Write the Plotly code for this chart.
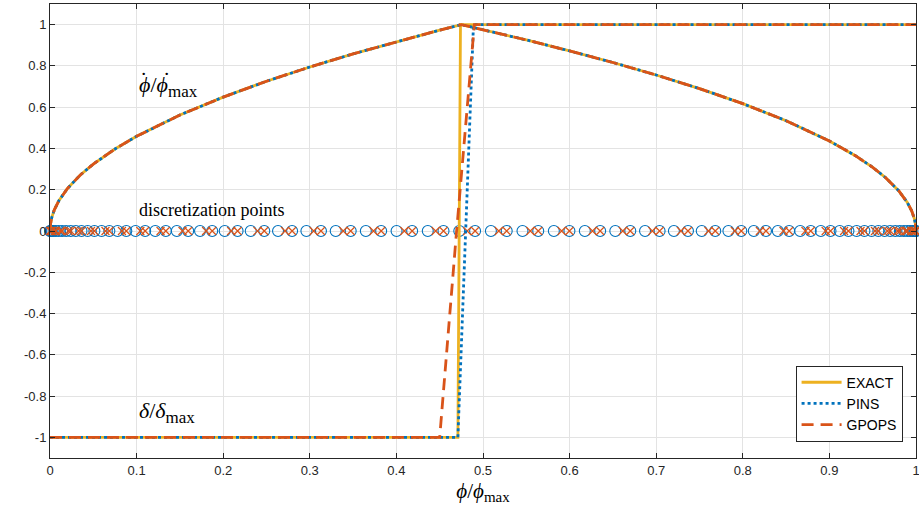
import plotly.graph_objects as go

# ---- data ----
# normalized roll-rate curve phi_dot/phi_dot_max vs phi/phi_max
rate_x = [0, 0.0005, 0.002, 0.005, 0.01, 0.02, 0.035, 0.05, 0.075, 0.1, 0.15, 0.2, 0.25,
          0.3, 0.35, 0.4, 0.45, 0.475, 0.5, 0.55, 0.6, 0.65, 0.7, 0.75, 0.8, 0.85, 0.9,
          0.93, 0.95, 0.965, 0.98, 0.99, 0.995, 0.998, 0.9995, 1]
rate_y = [0, 0.0324, 0.0649, 0.1026, 0.1451, 0.2052, 0.2714, 0.3244, 0.3974, 0.4588,
          0.5620, 0.6489, 0.7255, 0.7947, 0.8584, 0.9177, 0.9733, 1.0, 0.9759, 0.9258,
          0.8729, 0.8165, 0.7559, 0.6901, 0.6172, 0.5345, 0.4364, 0.3651, 0.3086, 0.2582,
          0.1952, 0.1380, 0.0976, 0.0617, 0.0309, 0]

# control delta/delta_max for each method
exact_dx = [0, 0.471, 0.474, 1]
exact_dy = [-1, -1, 1, 1]
pins_dx = [0, 0.471, 0.489, 1]
pins_dy = [-1, -1, 1, 1]
gpops_dx = [0, 0.450, 0.4695, 0.490, 1]
gpops_dy = [-1, -1, 0, 1, 1]

# discretization points (circles: PINS, crosses: GPOPS)
circle_pts = [0.00008, 0.00075, 0.00208, 0.00408, 0.00674, 0.01006, 0.01403, 0.01865,
              0.02391, 0.02981, 0.03633, 0.04348, 0.05123, 0.05958, 0.06852, 0.07803,
              0.08810, 0.09873, 0.10989, 0.12156, 0.13374, 0.14645, 0.15955, 0.17325,
              0.18729, 0.20175, 0.21660, 0.23182, 0.24740, 0.26332, 0.27955, 0.29608,
              0.31289, 0.32994, 0.34723, 0.36472, 0.38239, 0.40021, 0.41817, 0.43624,
              0.45440, 0.47262, 0.49087, 0.50913, 0.52738, 0.54560, 0.56376, 0.58183,
              0.59979, 0.61761, 0.63528, 0.65277, 0.67006, 0.68711, 0.70392, 0.72045,
              0.73668, 0.75260, 0.76818, 0.78340, 0.79825, 0.81271, 0.82675, 0.84045,
              0.85355, 0.86626, 0.87844, 0.89011, 0.90127, 0.91190, 0.92197, 0.93148,
              0.94042, 0.94877, 0.95652, 0.96367, 0.97019, 0.97609, 0.98135, 0.98597,
              0.98994, 0.99326, 0.99592, 0.99792, 0.99925, 0.99992]
cross_pts = [0.0, 0.00142, 0.00208, 0.00541, 0.00674, 0.01205, 0.01403, 0.02128, 0.02391,
             0.03307, 0.03633, 0.04736, 0.05123, 0.06405, 0.06852, 0.08307, 0.08810,
             0.10431, 0.10989, 0.12765, 0.13374, 0.15300, 0.15955, 0.18027, 0.18729,
             0.20918, 0.21660, 0.23961, 0.24740, 0.27144, 0.27955, 0.30449, 0.31289,
             0.33859, 0.34723, 0.37356, 0.38239, 0.40919, 0.41817, 0.44532, 0.45440,
             0.48175, 0.49087, 0.51826, 0.52738, 0.55468, 0.56376, 0.59081, 0.59979,
             0.62645, 0.63528, 0.66142, 0.67006, 0.69552, 0.70392, 0.72857, 0.73668,
             0.76039, 0.76818, 0.79083, 0.79825, 0.81973, 0.82675, 0.84700, 0.85355,
             0.87235, 0.87844, 0.89569, 0.90127, 0.91694, 0.92197, 0.93595, 0.94042,
             0.95265, 0.95652, 0.96693, 0.97019, 0.97872, 0.98135, 0.98796, 0.98994,
             0.99459, 0.99592, 0.99859, 0.99925, 1.0]

x_ticks = [0, 0.1, 0.2, 0.3, 0.4, 0.5, 0.6, 0.7, 0.8, 0.9, 1]
x_tick_text = ["0", "0.1", "0.2", "0.3", "0.4", "0.5", "0.6", "0.7", "0.8", "0.9", "1"]
y_ticks = [-1, -0.8, -0.6, -0.4, -0.2, 0, 0.2, 0.4, 0.6, 0.8, 1]
y_tick_text = ["-1", "-0.8", "-0.6", "-0.4", "-0.2", "0", "0.2", "0.4", "0.6", "0.8", "1"]

C_EXACT = "#EDB120"
C_PINS = "#0072BD"
C_GPOPS = "#D95319"

fig = go.Figure()

# discretization markers
fig.add_trace(go.Scatter(x=circle_pts, y=[0] * len(circle_pts), mode="markers",
                         marker=dict(symbol="circle-open", size=11, color=C_PINS,
                                     line=dict(width=1.1, color=C_PINS)),
                         showlegend=False, hoverinfo="skip", cliponaxis=False))
fig.add_trace(go.Scatter(x=cross_pts, y=[0] * len(cross_pts), mode="markers",
                         marker=dict(symbol="x-thin-open", size=8, color=C_GPOPS,
                                     line=dict(width=1.2, color=C_GPOPS)),
                         showlegend=False, hoverinfo="skip", cliponaxis=False))

LW = 2.8
# EXACT
fig.add_trace(go.Scatter(x=rate_x, y=rate_y, mode="lines", legendgroup="e",
                         line=dict(color=C_EXACT, width=LW), showlegend=False))
fig.add_trace(go.Scatter(x=exact_dx, y=exact_dy, mode="lines", legendgroup="e", name="EXACT",
                         line=dict(color=C_EXACT, width=LW)))
# PINS
fig.add_trace(go.Scatter(x=rate_x, y=rate_y, mode="lines", legendgroup="p",
                         line=dict(color=C_PINS, width=LW, dash="3px,3px"), showlegend=False))
fig.add_trace(go.Scatter(x=pins_dx, y=pins_dy, mode="lines", legendgroup="p", name="PINS",
                         line=dict(color=C_PINS, width=LW, dash="3px,3px")))
# GPOPS
fig.add_trace(go.Scatter(x=rate_x, y=rate_y, mode="lines", legendgroup="g",
                         line=dict(color=C_GPOPS, width=LW, dash="12px,7px"), showlegend=False))
fig.add_trace(go.Scatter(x=gpops_dx, y=gpops_dy, mode="lines", legendgroup="g", name="GPOPS",
                         line=dict(color=C_GPOPS, width=LW, dash="12px,7px")))

serif = "Liberation Serif, Times New Roman, serif"
ann_font = dict(family=serif, size=18, color="#000000")
math_font = dict(family=serif, size=22, color="#000000")
SUB = "<sub><span style='font-size:17px'>max</span></sub>"
# phi_dot / phi_dot_max label: text plus two dots above the phis
fig.add_annotation(x=0.1, y=0.70, xref="x", yref="y", xanchor="left", yanchor="middle",
                   text="<i>ϕ</i>/<i>ϕ</i>" + SUB, showarrow=False, font=math_font)
fig.add_annotation(x=0.1075, y=0.735, xref="x", yref="y", xanchor="center", yanchor="middle",
                   text="˙", showarrow=False, font=dict(family=serif, size=22, color="#000000"))
fig.add_annotation(x=0.1345, y=0.735, xref="x", yref="y", xanchor="center", yanchor="middle",
                   text="˙", showarrow=False, font=dict(family=serif, size=22, color="#000000"))
fig.add_annotation(x=0.1, y=0.10, xref="x", yref="y", xanchor="left", yanchor="middle",
                   text="discretization points", showarrow=False, font=ann_font)
fig.add_annotation(x=0.1, y=-0.88, xref="x", yref="y", xanchor="left", yanchor="middle",
                   text="<i>δ</i>/<i>δ</i>" + SUB, showarrow=False, font=math_font)

tick_font = dict(family="Liberation Sans, Arial, sans-serif", size=13, color="#262626")
fig.update_layout(
    width=919, height=516,
    margin=dict(l=50, r=3, t=4, b=58, autoexpand=False),
    paper_bgcolor="white", plot_bgcolor="white",
    showlegend=True,
    legend=dict(x=0.9845, y=0.036, xanchor="right", yanchor="bottom",
                bgcolor="white", bordercolor="#262626", borderwidth=1,
                font=dict(family="Liberation Sans, Arial, sans-serif", size=14, color="#000000"),
                tracegroupgap=0, itemwidth=40),
    xaxis=dict(range=[0, 1], tickmode="array", tickvals=x_ticks, ticktext=x_tick_text,
               automargin=False, ticklabeloverflow="allow",
               showgrid=True, gridcolor="#e3e3e3", gridwidth=1, zeroline=False,
               showline=True, linecolor="#262626", linewidth=1, mirror="ticks",
               ticks="inside", ticklen=5, tickcolor="#262626", tickfont=tick_font,
               title=dict(text="<i>ϕ</i>/<i>ϕ</i><sub><span style='font-size:15px'>max</span></sub>",
                          standoff=6, font=dict(family=serif, size=21, color="#000000"))),
    yaxis=dict(range=[-1.1, 1.1], tickmode="array", tickvals=y_ticks, ticktext=y_tick_text,
               automargin=False, ticklabeloverflow="allow",
               showgrid=True, gridcolor="#e3e3e3", gridwidth=1, zeroline=False,
               showline=True, linecolor="#262626", linewidth=1, mirror="ticks",
               ticks="inside", ticklen=5, tickcolor="#262626", tickfont=tick_font),
)

fig.write_html("out.html", config={"displayModeBar": False},
               post_script="document.body.style.margin='0px';")
